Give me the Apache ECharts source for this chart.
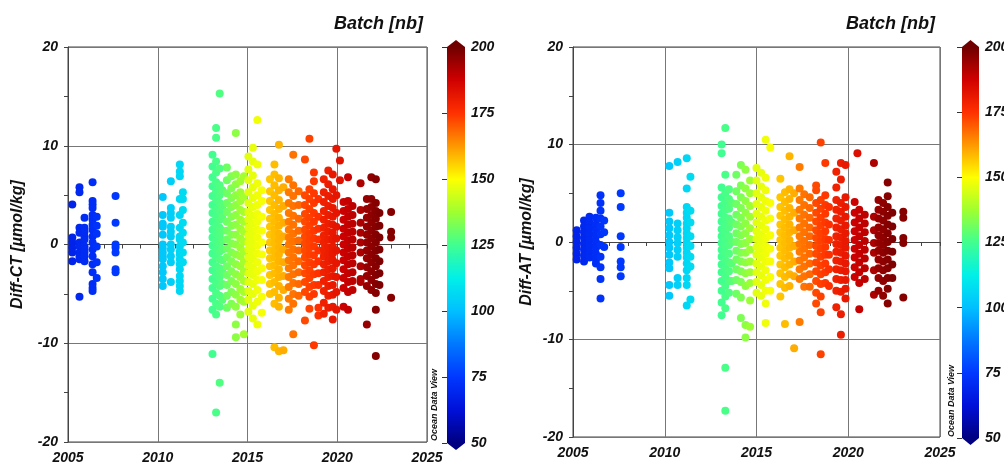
<!DOCTYPE html>
<html>
<head>
<meta charset="utf-8">
<title>Diff-CT / Diff-AT by batch</title>
<script src="https://cdn.jsdelivr.net/npm/echarts@6/dist/echarts.min.js"></script>
<style>
  html, body { margin: 0; padding: 0; background: #fff; }
  #chart { width: 1004px; height: 464px; }
</style>
</head>
<body>
<div id="chart"></div>
<script>
// x ticks, y ticks, colorbar ticks
const yearTicks = [2005, 2010, 2015, 2020, 2025];
const diffTicks = [-20, -10, 0, 10, 20];
const batchTicks = [50, 75, 100, 125, 150, 175, 200];

// Diff-CT: one entry per column of points (decimal year, batch number, values)
const ctYears = [2005.24, 2005.64, 2005.92, 2006.37, 2006.6, 2007.65,
  2010.28, 2010.73, 2011.23, 2011.4,
  2013.05, 2013.25, 2013.45, 2013.6,
  2013.85, 2014.1, 2014.35, 2014.6, 2014.8,
  2015.05, 2015.3, 2015.55, 2015.8,
  2016.25, 2016.5, 2016.75, 2017.0,
  2017.3, 2017.55, 2017.85,
  2018.2, 2018.45, 2018.7, 2018.95,
  2019.25, 2019.5, 2019.75, 2019.95, 2020.15,
  2020.35, 2020.6, 2020.85, 2021.3,
  2021.65, 2021.9, 2022.15, 2022.35, 2023.0];
const ctBatch = [68, 70, 71, 72, 73, 75,
  102, 104, 106, 107,
  125, 126, 127, 128,
  131, 133, 135, 137, 138,
  146, 147, 148, 149,
  157, 158, 159, 160,
  166, 167, 168,
  172, 173, 174, 175,
  179, 180, 181, 182, 183,
  188, 189, 190, 192,
  195, 196, 197, 198, 197];
const ctValues = [
  [4.05, 0.7, 0.2, -0.3, -0.8, -1.7],
  [5.8, 5.3, 1.7, 1.2, 0.2, -0.2, -0.8, -1.2, -1.5, -5.3],
  [2.7, 1.7, 1.3, 0.8, 0.5, -0.2, -0.5, -0.8, -1.2, -1.7],
  [6.3, 4.4, 4.05, 3.7, 3.0, 2.5, 2.0, 1.5, 0.8, 0.2, -0.5, -1.2, -2.0, -2.8, -4.0, -4.4, -4.7],
  [2.8, 1.9, 1.1, -0.2, -1.8, -3.4],
  [4.9, 2.2, 0, -0.3, -0.8, -2.5, -2.8],
  [4.8, 3.0, 2.1, 1.8, 1.0, 0, -0.4, -0.8, -1.2, -1.5, -2.2, -2.8, -3.5, -4.2],
  [6.4, 3.7, 3.2, 2.7, 1.8, 1.3, 0.8, 0, -0.5, -1.2, -1.8, -3.8],
  [8.1, 7.4, 6.9, 4.6, 3.0, 1.7, 0.8, 0.5, -0.2, -0.7, -1.0, -1.5, -2.0, -2.5, -3.2, -3.7, -4.2, -4.7],
  [5.3, 4.6, 3.5, 2.2, 1.2, 0.2, -0.8, -1.8],
  [9.1, 7.9, 6.8, 5.9, 4.9, 4.0, 3.2, 2.3, 1.5, 0.7, -0.1, -0.9, -1.8, -2.6, -3.5, -4.4, -5.5, -6.6, -11.1],
  [11.8, 10.8, 8.4, 7.3, 6.3, 5.4, 4.5, 3.6, 2.8, 1.9, 1.1, 0.3, -0.5, -1.3, -2.2, -3.0, -3.9, -4.9, -6.0, -7.1, -17.0],
  [15.3, 7.7, 6.0, 5.0, 4.2, 3.4, 2.5, 1.7, 0.9, 0.1, -0.7, -1.5, -2.4, -3.3, -4.2, -5.2, -6.3, -14.0],
  [5.5, 3.9, 2.7, 1.4, 0.4, -0.5, -1.6, -2.8, -4.0, -5.6],
  [7.8, 6.5, 5.2, 4.2, 3.3, 2.3, 1.4, 0.5, -0.4, -1.3, -2.2, -3.1, -4.1, -5.2, -6.4],
  [6.9, 5.7, 4.7, 3.8, 2.8, 1.9, 1.0, 0.1, -0.8, -1.7, -2.7, -3.7, -4.8, -6.0],
  [11.3, 7.1, 6.1, 5.0, 4.0, 3.0, 2.0, 1.0, 0.0, -1.0, -2.0, -3.0, -4.0, -5.1, -6.3, -8.1, -9.4],
  [6.4, 5.3, 4.4, 3.5, 2.5, 1.6, 0.6, -0.3, -1.2, -2.2, -3.3, -4.5, -5.6, -7.1],
  [6.9, 4.8, 3.3, 2.3, 1.3, 0.3, -0.7, -1.7, -2.7, -3.7, -4.8, -5.8, -9.1],
  [8.9, 7.6, 6.5, 5.3, 4.2, 3.3, 2.5, 1.7, 0.9, 0.2, -0.5, -1.3, -2.1, -2.9, -3.8, -4.7, -5.6, -6.8],
  [9.8, 8.4, 7.0, 5.8, 4.7, 3.8, 2.9, 2.1, 1.3, 0.6, -0.1, -0.8, -1.5, -2.3, -3.1, -4.0, -5.0, -6.2, -7.5],
  [12.6, 8.1, 6.2, 5.0, 4.0, 3.1, 2.3, 1.5, 0.7, -0.1, -0.9, -1.8, -2.7, -3.6, -4.6, -5.8, -8.1],
  [5.5, 4.4, 2.8, 1.4, 0.2, -1.0, -2.4, -3.6, -5.3, -6.9],
  [6.6, 5.4, 4.4, 3.5, 2.6, 1.8, 1.0, 0.2, -0.6, -1.4, -2.2, -3.1, -4.0, -5.0],
  [8.1, 7.1, 6.0, 5.0, 4.0, 3.1, 2.3, 1.5, 0.8, 0.1, -0.6, -1.3, -2.1, -2.9, -3.8, -4.8, -6.0, -10.4],
  [10.1, 6.7, 5.5, 4.5, 3.6, 2.7, 1.9, 1.1, 0.4, -0.3, -1.0, -1.7, -2.5, -3.3, -4.2, -5.4, -6.3, -10.8],
  [5.8, 3.9, 2.2, 0.8, -0.5, -1.8, -3.2, -4.6, -10.7],
  [6.6, 5.3, 4.2, 3.2, 2.3, 1.5, 0.7, 0.0, -0.8, -1.6, -2.4, -3.3, -4.3, -5.5, -6.6],
  [9.1, 6.0, 4.9, 3.9, 2.9, 2.0, 1.1, 0.3, -0.5, -1.3, -2.1, -3.0, -3.9, -5.0, -6.0, -9.1],
  [5.4, 4.0, 2.6, 1.4, 0.4, -0.6, -1.7, -2.8, -4.0, -5.2],
  [8.6, 5.0, 4.0, 3.1, 2.3, 1.5, 0.8, 0.1, -0.6, -1.3, -2.1, -2.9, -3.8, -4.8, -7.7],
  [10.7, 5.6, 4.6, 3.6, 2.7, 1.9, 1.1, 0.4, -0.3, -1.0, -1.8, -2.6, -3.4, -4.3, -5.3, -6.5],
  [7.3, 6.4, 5.2, 4.2, 3.2, 2.3, 1.4, 0.6, -0.2, -1.1, -2.0, -3.0, -4.1, -5.0, -10.2],
  [4.6, 2.8, 1.6, 0.5, -0.6, -1.7, -2.9, -4.1, -6.4, -7.2],
  [6.6, 5.3, 4.3, 3.4, 2.5, 1.7, 0.9, 0.2, -0.5, -1.2, -2.0, -2.8, -3.7, -4.7, -5.9, -7.0],
  [7.5, 6.1, 4.9, 3.9, 3.0, 2.1, 1.3, 0.5, -0.3, -1.0, -1.7, -2.5, -3.3, -4.2, -5.2, -6.4],
  [7.1, 5.6, 4.6, 3.7, 2.8, 2.0, 1.2, 0.5, -0.2, -0.9, -1.6, -2.4, -3.2, -4.1, -5.1, -6.3, -7.6],
  [9.7, 5.0, 3.2, 1.8, 0.6, -0.6, -1.9, -3.3, -4.8, -6.6],
  [8.5, 6.5],
  [4.3, 3.4, 2.5, 1.6, 0.8, 0.0, -0.8, -1.6, -2.5, -3.4, -4.4, -6.3],
  [6.8, 4.4, 3.6, 2.8, 2.0, 1.2, 0.4, -0.4, -1.2, -2.0, -2.9, -3.8, -4.8, -6.6],
  [3.9, 3.0, 2.1, 1.3, 0.5, -0.3, -1.1, -1.9, -2.8, -3.7, -4.6],
  [6.2, 3.5, 2.2, 1.2, 0.2, -0.8, -2.2, -3.5, -3.8],
  [4.6, 3.6, 2.7, 1.8, 1.0, 0.2, -0.6, -1.4, -2.3, -3.2, -4.2, -8.1],
  [6.8, 4.6, 3.8, 3.0, 2.2, 1.4, 0.6, -0.2, -1.0, -1.8, -2.7, -3.6, -4.6],
  [6.6, 4.2, 3.4, 2.6, 1.8, 1.0, 0.2, -0.6, -1.4, -2.2, -3.1, -4.0, -4.9, -6.6, -11.3],
  [3.2, 1.9, 0.7, -0.5, -1.7, -2.9, -4.1],
  [3.3, 1.3, 0.7, -5.4]
];

// Diff-AT
const atYears = [2005.2, 2005.6, 2005.9, 2006.25, 2006.5, 2006.7, 2007.6,
  2010.25, 2010.7, 2011.2, 2011.4,
  2013.1, 2013.3, 2013.5, 2013.65,
  2013.9, 2014.15, 2014.4, 2014.65,
  2015.0, 2015.25, 2015.5, 2015.75,
  2016.3, 2016.55, 2016.8, 2017.05,
  2017.35, 2017.6, 2017.9,
  2018.25, 2018.5, 2018.75, 2018.95,
  2019.35, 2019.6, 2019.85, 2020.5,
  2020.35, 2020.6, 2020.9, 2021.4,
  2021.65, 2021.9, 2022.15, 2022.4, 2023.0];
const atBatch = [68, 70, 71, 72, 73, 74, 75,
  102, 104, 106, 107,
  125, 126, 127, 128,
  131, 133, 135, 137,
  146, 147, 148, 149,
  157, 158, 159, 160,
  166, 167, 168,
  172, 173, 174, 175,
  179, 180, 181, 184,
  188, 189, 190, 192,
  195, 196, 197, 198, 197];
const atValues = [
  [1.2, 0.6, 0.0, -0.6, -1.2, -1.8],
  [2.2, 1.6, 1.0, 0.4, -0.2, -0.8, -1.4, -2.0],
  [2.6, 2.0, 1.4, 0.8, 0.2, -0.4, -1.0, -1.6],
  [2.5, 1.8, 1.2, 0.6, 0.0, -0.6, -1.2, -1.8, -2.2],
  [4.8, 4.0, 3.2, 2.4, 1.6, 0.8, -0.3, -1.5, -2.6, -3.8, -5.8],
  [2.2, 1.0, -0.5],
  [5.0, 3.6, 0.6, -0.5, -2.0, -2.6, -3.5],
  [7.8, 3.0, 2.1, 1.4, 0.7, 0.0, -0.6, -1.3, -2.1, -2.7, -4.4, -5.5],
  [8.2, 1.9, 1.2, 0.5, -0.1, -0.8, -1.5, -3.7, -4.4],
  [8.6, 5.5, 3.6, 3.0, 2.5, 1.9, 1.4, 0.9, 0.4, -0.1, -0.6, -1.1, -1.6, -2.2, -2.9, -3.7, -4.4, -6.5],
  [6.7, 3.2, 2.0, 0.6, -0.4, -1.5, -2.5, -5.9],
  [10.0, 9.1, 5.6, 4.6, 3.7, 2.9, 2.1, 1.3, 0.6, -0.1, -0.8, -1.5, -2.3, -3.1, -4.0, -5.0, -6.2, -7.5],
  [11.7, 6.9, 5.0, 4.1, 3.3, 2.5, 1.7, 1.0, 0.3, -0.4, -1.1, -1.9, -2.7, -3.5, -4.5, -5.6, -6.8, -12.9, -17.3],
  [5.4, 4.4, 3.4, 2.4, 1.5, 0.6, -0.3, -1.2, -2.1, -3.0, -4.0, -5.2],
  [4.0, 2.0, 0.0, -2.2, -4.0],
  [6.9, 5.2, 3.9, 2.8, 1.8, 0.9, 0.0, -0.9, -1.8, -2.8, -3.9, -5.3],
  [7.9, 5.8, 4.6, 3.5, 2.5, 1.6, 0.7, -0.2, -1.1, -2.0, -3.0, -4.1, -5.7, -7.8],
  [7.4, 5.5, 4.2, 3.0, 1.9, 0.9, -0.1, -1.1, -2.1, -3.2, -4.5, -8.5, -9.8],
  [6.3, 5.0, 3.7, 2.6, 1.4, 0.3, -0.8, -2.0, -3.1, -4.2, -6.0, -8.7],
  [7.6, 6.3, 5.0, 3.9, 2.9, 2.0, 1.1, 0.3, -0.5, -1.3, -2.2, -3.1, -4.1, -5.2],
  [7.1, 5.7, 4.6, 3.6, 2.6, 1.7, 0.8, 0.0, -0.8, -1.6, -2.5, -3.4, -4.4, -5.5],
  [10.5, 6.6, 5.3, 4.2, 3.2, 2.2, 1.3, 0.4, -0.4, -1.2, -2.0, -2.9, -3.9, -5.0, -6.3, -8.3],
  [9.7, 4.0, 2.4, 0.7, -0.7, -2.0, -3.6, -5.0],
  [6.5, 4.6, 3.6, 2.7, 1.8, 1.0, 0.2, -0.6, -1.4, -2.3, -3.2, -4.3, -5.6],
  [5.1, 4.1, 3.2, 2.3, 1.5, 0.7, -0.1, -0.9, -1.7, -2.6, -3.6, -4.7, -8.4],
  [8.8, 5.4, 4.4, 3.5, 2.6, 1.8, 1.0, 0.2, -0.6, -1.4, -2.3, -3.3, -4.5],
  [5.0, 3.0, 1.2, -0.4, -2.0, -3.5, -10.9],
  [7.7, 5.5, 4.3, 3.3, 2.4, 1.5, 0.6, -0.2, -1.0, -1.9, -2.8, -3.8, -8.2],
  [4.9, 3.8, 2.8, 1.9, 1.0, 0.1, -0.7, -1.6, -2.5, -3.5, -4.6],
  [4.6, 3.5, 2.5, 1.5, 0.6, -0.3, -1.2, -2.2, -3.3, -4.6],
  [5.8, 5.3, 4.0, 3.0, 2.1, 1.2, 0.4, -0.4, -1.2, -2.1, -3.0, -4.0, -5.2, -6.3],
  [10.2, 4.3, 3.4, 2.5, 1.7, 0.9, 0.1, -0.7, -1.5, -2.4, -3.3, -4.3, -5.6, -7.2, -11.5],
  [8.1, 4.8, 3.8, 2.9, 2.0, 1.1, 0.3, -0.5, -1.3, -2.2, -3.1, -4.2],
  [3.6, 1.8, 0.2, -1.3, -2.8, -4.5],
  [7.2, 5.6, 4.3, 3.3, 2.4, 1.5, 0.6, -0.2, -1.0, -1.9, -2.8, -3.8, -5.0, -6.7],
  [8.1, 6.4, 4.0, 3.1, 2.2, 1.3, 0.5, -0.3, -1.1, -2.0, -2.9, -3.9, -5.1, -7.4, -9.5],
  [7.9, 4.6, 3.6, 2.6, 1.7, 0.9, 0.1, -0.6, -1.4, -2.2, -3.0, -3.9, -4.8, -5.8],
  [9.1],
  [4.1, 3.0, 2.0, 1.1, 0.2, -0.7, -1.6, -2.6, -3.6],
  [3.3, 2.4, 1.5, 0.6, -0.3, -1.2, -2.1, -3.1, -4.2, -6.9],
  [2.8, 1.9, 1.0, 0.1, -0.8, -1.7, -2.7, -3.8],
  [8.1, 2.6, 1.2, -0.1, -1.1, -2.9, -5.4],
  [4.3, 3.3, 2.4, 1.5, 0.7, -0.1, -0.9, -1.8, -2.7, -3.7, -5.0],
  [4.0, 3.1, 2.2, 1.3, 0.5, -0.3, -1.1, -2.0, -2.9, -4.0, -5.5],
  [6.1, 4.7, 3.6, 2.7, 1.8, 0.9, 0.0, -0.9, -1.8, -2.7, -3.7, -4.8, -6.3],
  [3.0, 1.6, 0.3, -1.0, -2.3, -3.7],
  [3.1, 2.5, 0.4, -0.1, -5.7]
];

// ODV style rainbow, 50 -> 200
const batchColors = ['#000080', '#0010d8', '#0038ff', '#0078ff', '#00c0ff', '#00f0e8', '#40ff90',
  '#a0ff30', '#ffff00', '#ff9800', '#ff3000', '#d00000', '#700000'];

function buildPoints(years, batches, values) {
  const pts = [];
  years.forEach((yr, i) => {
    values[i].forEach((v) => pts.push([yr, v, batches[i]]));
  });
  return pts;
}

const FONT = '"Liberation Sans", Arial, sans-serif';
const lbl = { fontFamily: FONT, fontWeight: 'bold', fontStyle: 'italic', color: '#111' };

function xAx(gi) {
  return {
    type: 'value', gridIndex: gi,
    min: yearTicks[0], max: yearTicks[yearTicks.length - 1], interval: 5,
    axisLine: { lineStyle: { color: '#444' } },
    axisTick: { length: 4, lineStyle: { color: '#444' } },
    minorTick: { show: true, splitNumber: 5, length: 4, lineStyle: { color: '#444' } },
    splitLine: { show: true, lineStyle: { color: '#777', width: 1 } },
    axisLabel: Object.assign({ fontSize: 14, margin: 9, formatter: (v) => String(v) }, lbl),
  };
}
function yAx(gi, name, gap) {
  return {
    type: 'value', gridIndex: gi,
    min: diffTicks[0], max: diffTicks[diffTicks.length - 1], interval: 10,
    name: name, nameLocation: 'middle', nameGap: gap,
    nameTextStyle: Object.assign({ fontSize: 16 }, lbl),
    axisLine: { lineStyle: { color: '#444' } },
    axisTick: { length: 4, lineStyle: { color: '#444' } },
    minorTick: { show: true, splitNumber: 2, length: 4, lineStyle: { color: '#444' } },
    splitLine: { show: true, lineStyle: { color: '#777', width: 1 } },
    axisLabel: Object.assign({ fontSize: 14, margin: 10 }, lbl),
  };
}
// colorbar tick axis
function barX(gi) {
  return { type: 'value', gridIndex: gi, show: false, min: 0, max: 1 };
}
function barY(gi) {
  return {
    type: 'value', gridIndex: gi, position: 'right', z: 5,
    min: batchTicks[0], max: batchTicks[batchTicks.length - 1], interval: 25,
    axisLine: { show: false },
    axisTick: { show: true, inside: true, length: 5, lineStyle: { color: '#333' } },
    splitLine: { show: false },
    axisLabel: Object.assign({ fontSize: 14, margin: 6 }, lbl),
  };
}

function colorbar(x, y, w, h) {
  const stops = batchColors.map((c, i) => ({ offset: i / (batchColors.length - 1), color: c }));
  const mid = x + w / 2;
  return [
    {
      type: 'rect', shape: { x: x, y: y, width: w, height: h },
      style: { fill: new echarts.graphic.LinearGradient(0, 1, 0, 0, stops) },
    },
    {
      type: 'polygon', shape: { points: [[x, y], [mid, y - 7], [x + w, y]] },
      style: { fill: batchColors[batchColors.length - 1] },
    },
    {
      type: 'polygon', shape: { points: [[x, y + h], [mid, y + h + 7], [x + w, y + h]] },
      style: { fill: batchColors[0] },
    },
  ];
}
function odvText(cx, cy) {
  return {
    type: 'text', x: cx, y: cy, rotation: Math.PI / 2,
    style: { text: 'Ocean Data View', font: 'italic bold 9px ' + FONT, fill: '#111',
      align: 'center', verticalAlign: 'middle' },
  };
}
function titleText(rx, cy) {
  return {
    type: 'text', x: rx, y: cy,
    style: { text: 'Batch [nb]', font: 'italic bold 18px ' + FONT, fill: '#111',
      align: 'right', verticalAlign: 'middle' },
  };
}

const chart = echarts.init(document.getElementById('chart'));
chart.setOption({
  animation: false,
  grid: [
    { left: 68, top: 47, width: 359, height: 395, show: true, borderColor: '#444', borderWidth: 1, outerBoundsMode: 'none' },
    { left: 573, top: 47, width: 367, height: 390, show: true, borderColor: '#444', borderWidth: 1, outerBoundsMode: 'none' },
    { left: 447, top: 47, width: 18, height: 396, outerBoundsMode: 'none' },
    { left: 962, top: 47, width: 17, height: 391, outerBoundsMode: 'none' },
  ],
  xAxis: [xAx(0), xAx(1), barX(2), barX(3)],
  yAxis: [yAx(0, 'Diff-CT [µmol/kg]', 42), yAx(1, 'Diff-AT [µmol/kg]', 38), barY(2), barY(3)],
  visualMap: [
    { type: 'continuous', show: false, seriesIndex: 0, dimension: 2, min: 50, max: 200, inRange: { color: batchColors } },
    { type: 'continuous', show: false, seriesIndex: 1, dimension: 2, min: 50, max: 200, inRange: { color: batchColors } },
  ],
  series: [
    {
      name: 'Diff-CT', type: 'scatter', xAxisIndex: 0, yAxisIndex: 0,
      symbolSize: 8, itemStyle: { opacity: 1 },
      data: buildPoints(ctYears, ctBatch, ctValues),
    },
    {
      name: 'Diff-AT', type: 'scatter', xAxisIndex: 1, yAxisIndex: 1,
      symbolSize: 8, itemStyle: { opacity: 1 },
      data: buildPoints(atYears, atBatch, atValues),
    },
  ],
  graphic: [].concat(
    colorbar(447, 47, 18, 396),
    colorbar(962, 47, 17, 391),
    [odvText(435, 405), odvText(952, 401), titleText(423, 24), titleText(935, 24)]
  ),
});
</script>
</body>
</html>
